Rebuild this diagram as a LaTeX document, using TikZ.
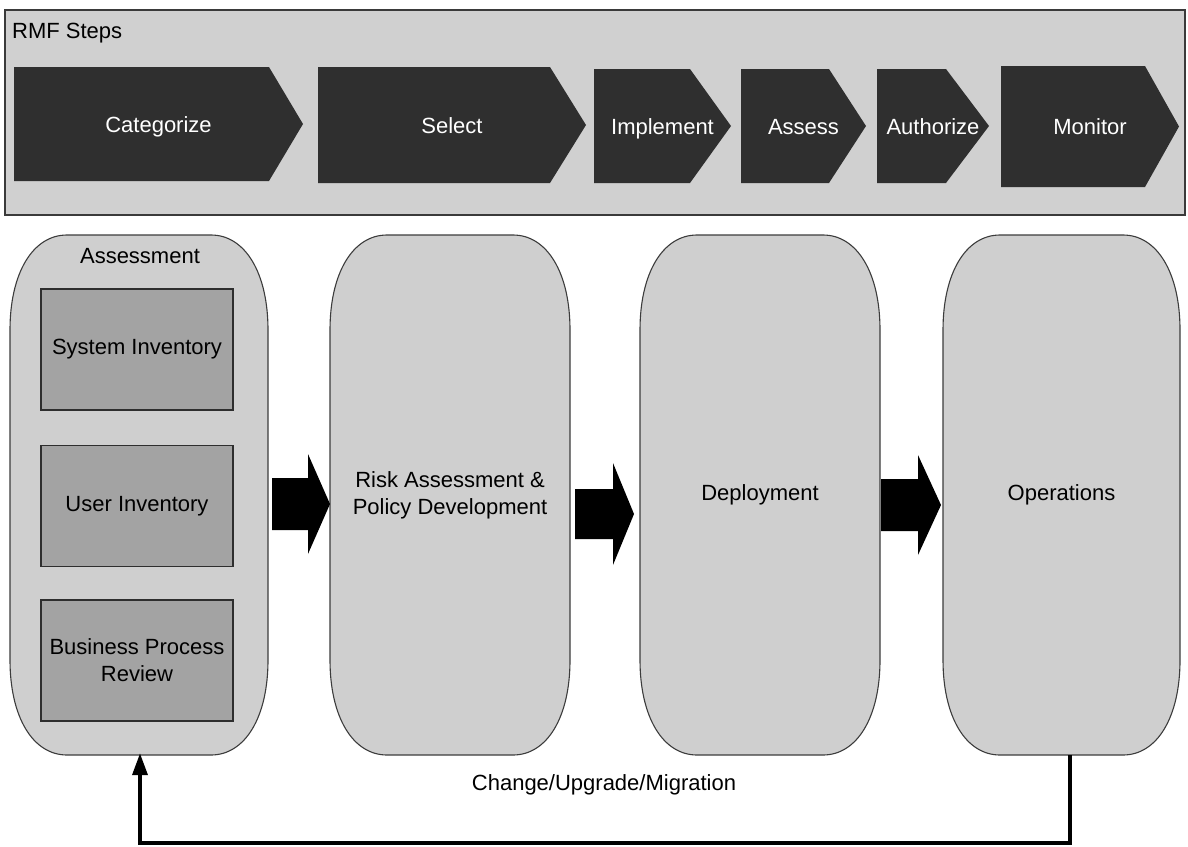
\documentclass[tikz,border=0pt]{standalone}
\usepackage{fontspec}
\setmainfont{Liberation Sans}
\usetikzlibrary{arrows.meta}

\definecolor{bannerfill}{HTML}{D0D0D0}
\definecolor{bannerline}{HTML}{3A3A3A}
\definecolor{chevfill}{HTML}{2F2F2F}
\definecolor{pillfill}{HTML}{CFCFCF}
\definecolor{pillline}{HTML}{3C3C3C}
\definecolor{subfill}{HTML}{A3A3A3}
\definecolor{subline}{HTML}{2E2E2E}

% one RMF step: name, left, notch, tip, top, bottom, label
\newcommand\rmfstep[7]{%
  \fill[chevron] (#2,#5) -- (#3,#5) -- (#4,{(#5+#6)/2}) -- (#3,#6) -- (#2,#6) -- cycle;
  \node[steplbl, anchor=base] (#1) at ({(#2+#4)/2},{(#5+#6)/2+8}) {#7};
}

% one life-cycle stage with soft elliptic corners: name, x1, y1, x2, y2, label
\newcommand\stage[6]{%
  \path[pillshape] ({#2+57},#3) -- ({#4-57},#3)
     .. controls ({#4-57+0.6*57},#3) and (#4,{#3+95-0.6*95}) .. (#4,{#3+95})
     -- (#4,{#5-95})
     .. controls (#4,{#5-95+0.6*95}) and ({#4-57+0.6*57},#5) .. ({#4-57},#5)
     -- ({#2+57},#5)
     .. controls ({#2+57-0.6*57},#5) and (#2,{#5-95+0.6*95}) .. (#2,{#5-95})
     -- (#2,{#3+95})
     .. controls (#2,{#3+95-0.6*95}) and ({#2+57-0.6*57},#3) .. cycle;
  \node[lbl, minimum width={#4-#2}, minimum height={#5-#3}] (#1)
     at ({(#2+#4)/2},{(#3+#5)/2}) {#6};
}

% thick block arrow: name, shaft start, head base, tip, centre y, shaft half, head half
\newcommand\blockarrow[7]{%
  \fill[blockarrowstyle] (#2,{#5-#6}) -- (#3,{#5-#6}) -- (#3,{#5-#7}) -- (#4,#5)
     -- (#3,{#5+#7}) -- (#3,{#5+#6}) -- (#2,{#5+#6}) -- cycle;
  \coordinate (#1) at (#4,#5);
}

\begin{document}
\begin{tikzpicture}[x=1pt,y=-1pt,
  lbl/.style={font=\fontsize{22}{27}\selectfont, text=black, align=center, inner sep=0pt},
  steplbl/.style={lbl, text=white},
  chevron/.style={fill=chevfill},
  pillshape/.style={fill=pillfill, draw=pillline, line width=1.1pt},
  subbox/.style={lbl, fill=subfill, draw=subline, line width=1.2pt,
                 minimum width=192, minimum height=121},
  blockarrowstyle/.style={fill=black},
  feedback/.style={line width=3.6pt, black, -{Triangle[width=15pt,length=22pt]}},
  bannerbox/.style={fill=bannerfill, draw=bannerline, line width=1.3pt,
                    minimum width=1180, minimum height=205, inner sep=0pt}
]
\useasboundingbox (0,0) rectangle (1188,846);

% RMF steps banner
\node[bannerbox] (banner) at (595,112.5) {};
\node[lbl, anchor=base west] (title) at (12,38) {RMF Steps};

\rmfstep{cat}{14}{269}{303}{67}{181}{Categorize}
\rmfstep{sel}{318}{550}{586}{67}{183}{Select}
\rmfstep{imp}{594}{690}{731}{69}{183}{Implement}
\rmfstep{ass}{741}{829}{866}{69}{183}{Assess}
\rmfstep{aut}{877}{946}{989}{69}{183}{Authorize}
\rmfstep{mon}{1001}{1145}{1179}{66}{187}{Monitor}

% life-cycle stages
\stage{A}{10}{235}{268}{755}{}
\node[lbl] (Alabel) at (140,256) {Assessment};
\node[subbox] (sysinv) at (137,349.5) {System Inventory};
\node[subbox] (userinv) at (137,506) {User Inventory};
\node[subbox] (bpr) at (137,660.5) {Business Process\\Review};

\stage{R}{330}{235}{570}{755}{Risk Assessment \&\\Policy Development}
\stage{D}{640}{235}{880}{755}{Deployment}
\stage{O}{943}{235}{1180}{755}{Operations}

% flow between stages
\blockarrow{arrAR}{272}{308}{330}{504}{26}{50}
\blockarrow{arrRD}{575}{613}{634}{514}{25}{51}
\blockarrow{arrDO}{881}{918}{941}{505}{26}{50}

% feedback loop
\coordinate (loopR) at (1070,843);
\coordinate (loopL) at (140,843);
\draw[feedback] (O.south -| loopR) -- (loopR) -- (loopL) -- ([yshift=2pt]A.south -| loopL);
\node[lbl] (loopLabel) at (604,785) {Change/Upgrade/Migration};
\end{tikzpicture}
\end{document}
